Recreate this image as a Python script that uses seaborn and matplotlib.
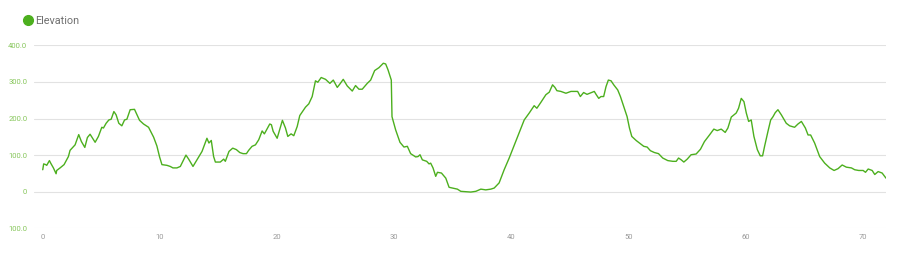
import matplotlib
matplotlib.use("Agg")
import matplotlib.pyplot as plt
from matplotlib.lines import Line2D
import seaborn as sns
import pandas as pd

# ---- data ----
distance_km = [
    0.00, 0.08, 0.25, 0.34, 0.57, 0.68, 0.91, 1.14, 1.19, 1.48, 1.82, 2.19, 2.33, 2.76,
    3.07, 3.30, 3.59, 3.81, 4.04, 4.47, 4.75, 5.04, 5.18, 5.41, 5.64, 5.84, 6.07, 6.26,
    6.49, 6.75, 6.98, 7.18, 7.46, 7.83, 8.26, 8.60, 9.03, 9.46, 9.74, 9.97, 10.17, 10.60,
    10.88, 11.11, 11.45, 11.74, 12.22, 12.45, 12.82, 13.16, 13.59, 14.01, 14.18, 14.38,
    14.58, 14.73, 15.15, 15.44, 15.58, 15.89, 16.21, 16.52, 16.81, 17.09, 17.38, 17.57,
    17.86, 18.15, 18.43, 18.72, 18.91, 19.37, 19.51, 19.66, 20.00, 20.45, 20.71, 20.91,
    21.19, 21.42, 21.71, 21.93,
    22.42, 22.70, 22.99, 23.27, 23.47, 23.76, 24.13, 24.50, 24.79, 25.13, 25.35, 25.64,
    25.98, 26.41, 26.69, 26.98, 27.26, 27.69, 27.98, 28.32, 28.69, 29.06, 29.26, 29.46,
    29.74, 29.80, 30.11, 30.48, 30.82, 31.11, 31.39, 31.82, 32.02, 32.19, 32.39, 32.76,
    32.96, 33.10, 33.30, 33.53, 33.68, 34.02, 34.39, 34.67, 35.10, 35.38, 35.67, 36.09,
    36.52, 36.95, 37.38, 37.80, 38.23, 38.52, 38.94, 39.37, 39.80, 40.22, 40.65, 41.08,
    41.51, 41.93, 42.16, 42.50, 42.93, 43.22, 43.50, 43.70, 43.87, 44.21, 44.64, 45.07,
    45.64, 45.87, 46.15, 46.44, 46.84, 47.06, 47.21, 47.44,
    47.63, 47.86, 48.06, 48.26, 48.49, 48.72, 49.06, 49.29, 49.57, 49.86, 50.06, 50.26,
    50.63, 50.99, 51.28, 51.57, 51.85, 52.19, 52.54, 52.90, 53.33, 53.76, 54.05, 54.25,
    54.48, 54.70, 54.99, 55.32, 55.75, 56.12, 56.46, 56.89, 57.26, 57.55, 57.89, 58.23,
    58.46, 58.75, 59.17, 59.37, 59.60, 59.83, 60.03, 60.23, 60.45, 60.68, 60.97, 61.22,
    61.42, 61.59, 61.88, 62.11, 62.31, 62.50, 62.73, 63.02, 63.44, 63.73, 64.15, 64.44,
    64.73, 65.07, 65.30, 65.52, 65.86, 66.29, 66.72, 67.15, 67.52, 67.86, 68.21, 68.57,
    69.00, 69.28, 69.62, 70.00, 70.20, 70.43, 70.77, 70.99, 71.28, 71.62, 71.95,
]
elevation_m = [
    60, 76, 74, 72, 85, 78, 65, 49, 58, 65, 74, 96, 113, 128,
    156, 137, 121, 148, 157, 135, 151, 176, 174, 187, 196, 198, 219, 210,
    187, 180, 196, 198, 224, 225, 195, 185, 176, 149, 125, 95, 74, 72,
    69, 65, 65, 69, 100, 89, 69, 87, 110, 146, 133, 140,
    96, 81, 81, 89, 83, 110, 119, 115, 107, 104, 104, 113,
    124, 128, 142, 166, 158, 185, 183, 165, 146, 195, 174, 151,
    158, 153, 178, 208,
    231, 240, 260, 303, 299, 312, 307, 296, 305, 285, 294, 307,
    289, 275, 290, 280, 280, 296, 305, 331, 339, 351, 349, 333,
    305, 205, 169, 135, 122, 124, 104, 95, 96, 101, 87, 83,
    76, 78, 65, 42, 53, 51, 37, 12, 9, 7, 1, 0,
    -1, 1, 7, 5, 7, 10, 24, 60, 92, 126, 160, 196,
    215, 235, 228, 244, 265, 272, 292, 285, 276, 274, 269, 274,
    274, 260, 271, 266, 271, 274, 266, 255,
    260, 260, 287, 305, 303, 292, 278, 260, 233, 205, 174, 151,
    140, 131, 124, 122, 112, 107, 104, 92, 85, 83, 83, 92,
    87, 81, 89, 101, 103, 116, 137, 155, 171, 167, 171, 162,
    174, 204, 215, 228, 255, 246, 215, 192, 196, 151, 115, 98,
    98, 124, 165, 196, 205, 216, 224, 210, 187, 180, 176, 185,
    192, 174, 155, 155, 133, 96, 78, 65, 58, 63, 73, 67,
    65, 60, 58, 58, 53, 62, 58, 47, 55, 51, 37,
]
y_ticks = [-100, 0, 100, 200, 300, 400]
y_tick_labels = ["100.0", "0", "100.0", "200.0", "300.0", "400.0"]
x_ticks = [0, 10, 20, 30, 40, 50, 60, 70]
series_name = "Elevation"

LINE_GREEN = "#4caf1e"
LABEL_GREEN = "#86c65a"

sns.set_style("white")
plt.rcParams["font.family"] = ["Roboto", "DejaVu Sans"]

df = pd.DataFrame({"km": distance_km, "elev": elevation_m})

fig = plt.figure(figsize=(9.0, 2.56), dpi=100)
ax = fig.add_axes([34.3 / 900, 1 - 228.3 / 256, (886 - 34.3) / 900, (228.3 - 45.3) / 256])

sns.lineplot(data=df, x="km", y="elev", ax=ax, color=LINE_GREEN, linewidth=1.0,
             estimator=None, sort=False)

ax.set_xlim(-0.72, 71.95)
ax.set_ylim(-100, 400)
ax.set_yticks(y_ticks)
ax.set_yticklabels(y_tick_labels)
ax.set_xticks(x_ticks)
ax.set_xticklabels([str(t) for t in x_ticks])
ax.set_xlabel("")
ax.set_ylabel("")

for s in ax.spines.values():
    s.set_visible(False)

for yv in y_ticks:
    col = "#f2f2f2" if yv == -100 else "#e2e2e2"
    ax.axhline(yv, color=col, linewidth=0.8, zorder=0)

ax.tick_params(axis="y", length=0, pad=5, labelsize=5.5, labelcolor=LABEL_GREEN)
ax.tick_params(axis="x", length=0, pad=4, labelsize=5.5, labelcolor="#9a9a9a")

handle = Line2D([], [], marker="o", linestyle="", markersize=7,
                markerfacecolor=LINE_GREEN, markeredgecolor=LINE_GREEN)
fig.legend(handles=[handle], labels=[series_name], loc="center left",
           bbox_to_anchor=(23 / 900, 1 - 21 / 256), frameon=False,
           handlelength=0.9, handletextpad=0.2, borderpad=0, borderaxespad=0,
           prop={"size": 7.8}, labelcolor="#707070")

fig.savefig("out.png", dpi=100, facecolor="white")
